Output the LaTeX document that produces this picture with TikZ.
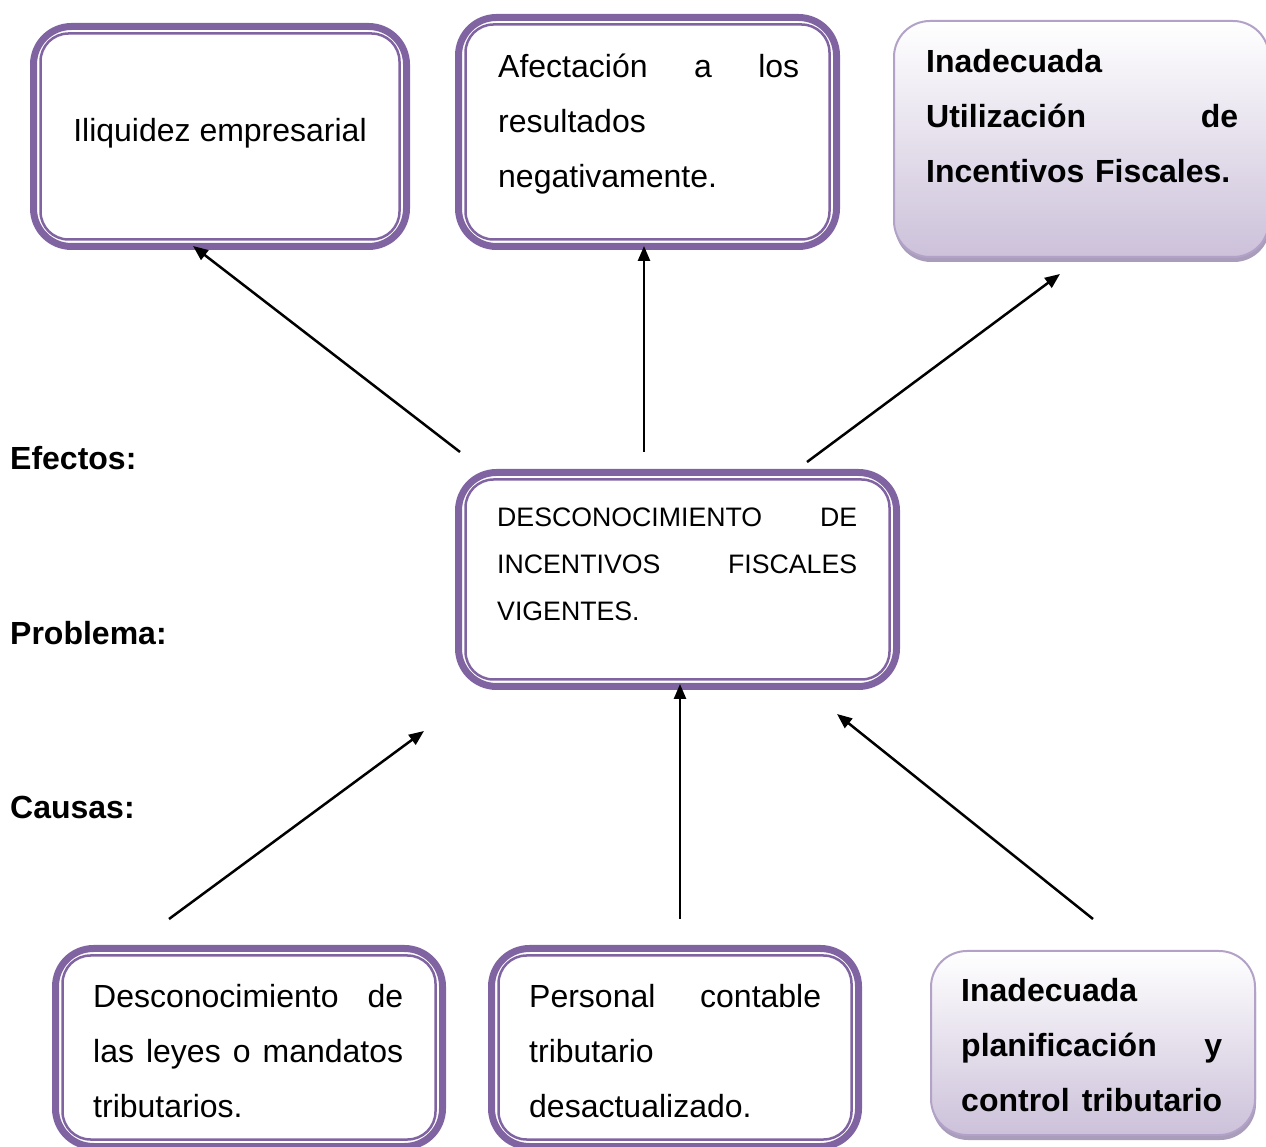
\documentclass[tikz,border=0pt]{standalone}
\usepackage{fontspec}
\setmainfont{Liberation Sans}
\usetikzlibrary{fit,positioning,shadows,arrows.meta}
\definecolor{lila}{HTML}{8064A2}
\definecolor{lilaclaro}{HTML}{B3A2C7}
\definecolor{lavanda}{HTML}{CCC1DA}
\definecolor{sombra}{HTML}{A99DBB}

\begin{document}
\begin{tikzpicture}[x=1pt, y=1pt,
                    texto/.style={anchor=base west, inner sep=0pt, align=left, font=\fontsize{32}{55}\selectfont}]
    \tikzstyle{marco}=[rectangle, draw=lila, line width=7pt, rounded corners=38pt]
    \tikzstyle{filete}=[rectangle, draw=lila, line width=2.5pt, rounded corners=28pt, inner sep=-10.5pt]
    \tikzstyle{degradado}=[rectangle, draw=lilaclaro, line width=2pt, rounded corners=36pt, top color=white, bottom color=lavanda,
                           drop shadow={shadow xshift=1pt, shadow yshift=-5pt, fill=sombra, opacity=1}]
    \tikzstyle{flecha}=[-{Triangle[length=15pt, width=12pt]}, line width=2.5pt]
    \tikzstyle{rotulo}=[anchor=base west, inner sep=0pt, font=\bfseries\fontsize{32}{38}\selectfont]

      \useasboundingbox (0,0) rectangle (1266,1146);

      % efectos
      \node[marco, minimum width=373, minimum height=220] (efecto1) at (220,1009.5) {};
      \node[filete, fit=(efecto1)] (efecto1f) {};
      \node[anchor=base, inner sep=0pt, font=\fontsize{32}{38}\selectfont] (efecto1t) at (220,1004.5) {Iliquidez empresarial};
      \node[marco, minimum width=378, minimum height=229] (efecto2) at (647.5,1014) {};
      \node[filete, fit=(efecto2)] (efecto2f) {};
      \node[texto, text width=301] (efecto2t) at (498,1068.5) {Afectación\hfill a\hfill los\\ resultados\\ negativamente.};
      \node[degradado, minimum width=375, minimum height=236] (efecto3) at (1081.5,1007) {};
      \node[texto, text width=312, font=\bfseries\fontsize{32}{55}\selectfont] (efecto3t) at (926,1073.5) {Inadecuada\\ Utilización\hfill de\\ Incentivos Fiscales.};

      % problema
      \node[marco, minimum width=438, minimum height=214] (problema) at (677.5,566.5) {};
      \node[filete, fit=(problema)] (problemaf) {};
      \node[texto, text width=360, font=\fontsize{26.7}{47}\selectfont] (problemat) at (497,619.5) {DESCONOCIMIENTO\hfill DE\\ INCENTIVOS\hfill FISCALES\\ VIGENTES.};

      % causas
      \node[marco, minimum width=387, minimum height=198] (causa1) at (249,98.5) {};
      \node[filete, fit=(causa1)] (causa1f) {};
      \node[texto, text width=310] (causa1t) at (93,138.5) {Desconocimiento\hfill de\\ las\hfill leyes\hfill o\hfill mandatos\\ tributarios.};
      \node[marco, minimum width=367, minimum height=198] (causa2) at (675,98.5) {};
      \node[filete, fit=(causa2)] (causa2f) {};
      \node[texto, text width=292] (causa2t) at (529,138.5) {Personal\hfill contable\\ tributario\\ desactualizado.};
      \node[degradado, minimum width=324, minimum height=184] (causa3) at (1093,103) {};
      \node[texto, text width=261, font=\bfseries\fontsize{32}{55}\selectfont] (causa3t) at (961,144.5) {Inadecuada\\ planificación\hfill y\\ control\hfill tributario};

      % rotulos
      \node[rotulo] (efectos) at (10,676.5) {Efectos:};
      \node[rotulo] (problemar) at (10,501.5) {Problema:};
      \node[rotulo] (causas) at (10,327.5) {Causas:};

      % extremos de las flechas
      \coordinate (p1) at (460,694);   \coordinate (e1) at (193,900);
      \coordinate (p2) at (644,694);   \coordinate (e2) at (644,900);
      \coordinate (p3) at (807,684);   \coordinate (e3) at (1060,872);
      \coordinate (c1) at (169,227);   \coordinate (q1) at (424,415);
      \coordinate (c2) at (680,227);   \coordinate (q2) at (680,462);
      \coordinate (c3) at (1093,227);  \coordinate (q3) at (837,432);
      \draw[flecha] (p1) -- (e1);
      \draw[flecha] (p2) -- (e2);
      \draw[flecha] (p3) -- (e3);
      \draw[flecha] (c1) -- (q1);
      \draw[flecha] (c2) -- (q2);
      \draw[flecha] (c3) -- (q3);
\end{tikzpicture}
\end{document}
